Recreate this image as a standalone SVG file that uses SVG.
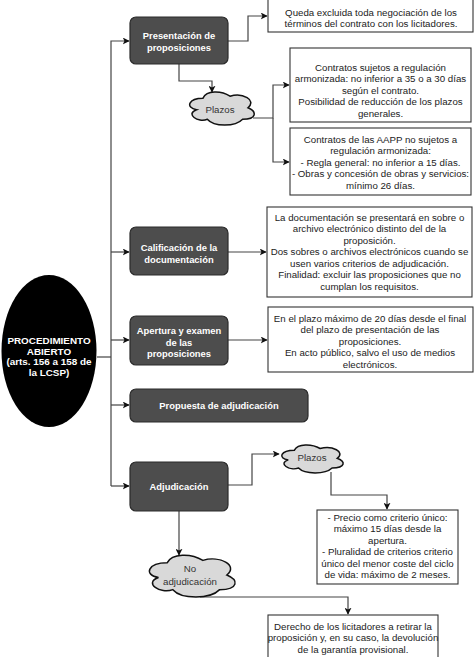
<svg xmlns="http://www.w3.org/2000/svg" width="474" height="657" viewBox="0 0 474 657">
<style>
.node rect{fill:#4d4d4d;stroke:#2b2b2b;stroke-width:1.2}
.nt{font-family:"Liberation Sans",Arial,sans-serif;font-size:9.4px;font-weight:bold;fill:#ffffff;text-anchor:middle}
.et{font-family:"Liberation Sans",Arial,sans-serif;font-size:9.9px;font-weight:bold;fill:#ffffff;text-anchor:middle}
.box rect{fill:#ffffff;stroke:#333333;stroke-width:1.1}
.bt{font-family:"Liberation Sans",Arial,sans-serif;font-size:9.7px;fill:#222222;text-anchor:middle}
.ct{font-family:"Liberation Sans",Arial,sans-serif;font-size:9.7px;fill:#333333;text-anchor:middle}
.cloud path{fill:#d9d9d9;stroke:#111111;stroke-width:1.5}
.edges path{fill:none;stroke:#444444;stroke-width:1.2}
</style>
<defs>
<marker id="arr" viewBox="0 0 10 10" refX="9" refY="5" markerWidth="7" markerHeight="7" markerUnits="userSpaceOnUse" orient="auto">
<path d="M0,0 L10,5 L0,10 L2.5,5 Z" fill="#111111"/>
</marker>
</defs>
<rect x="0" y="0" width="474" height="657" fill="#ffffff"/>

<g class="edges" id="connectors">
<path d="M97,357 L111,357"/>
<path d="M111,486 L111,41 L129,41" marker-end="url(#arr)"/>
<path d="M111,252 L129,252" marker-end="url(#arr)"/>
<path d="M111,340 L129,340" marker-end="url(#arr)"/>
<path d="M111,405 L129,405" marker-end="url(#arr)"/>
<path d="M111,486 L129,486" marker-end="url(#arr)"/>
<path d="M228,41 L248,41 L248,16 L267,16" marker-end="url(#arr)"/>
<path d="M179,64 L179,81 L212,81 L212,92" marker-end="url(#arr)"/>
<path d="M253,118 L273,118 L273,85 L289,85" marker-end="url(#arr)"/>
<path d="M273,118 L273,162 L289,162" marker-end="url(#arr)"/>
<path d="M228,252 L266,252" marker-end="url(#arr)"/>
<path d="M228,340 L267,340" marker-end="url(#arr)"/>
<path d="M228,485 L252,485 L252,454 L279,454" marker-end="url(#arr)"/>
<path d="M331,472 L331,495 L387,495 L387,509" marker-end="url(#arr)"/>
<path d="M179,511 L179,555" marker-end="url(#arr)"/>
<path d="M200,597 L348,597 L348,614" marker-end="url(#arr)"/>
</g>

<g id="procedimiento">
<ellipse cx="49" cy="351" rx="47.5" ry="76" fill="#000000"/>
<text class="et" x="49" y="344">PROCEDIMIENTO</text>
<text class="et" x="49" y="354.5">ABIERTO</text>
<text class="et" x="49" y="365">(arts. 156 a 158 de</text>
<text class="et" x="49" y="375.5">la LCSP)</text>
</g>

<g class="node" id="presentacion">
<rect x="130" y="17" width="98" height="47" rx="6"/>
<text class="nt" x="179" y="39">Presentación de</text>
<text class="nt" x="179" y="51">proposiciones</text>
</g>

<g class="box" id="negociacion">
<rect x="268" y="-1" width="205" height="33"/>
<text class="bt" x="371" y="15.5">Queda excluida toda negociación de los</text>
<text class="bt" x="371" y="27">términos del contrato con los licitadores.</text>
</g>

<g class="cloud" id="plazos1">
<path d="M25,25 C5,25 0,50 16,55 C0,66 18,90 31,80 C40,100 70,100 80,80 C100,80 100,60 87.5,50 C100,30 80,10 62.5,20 C50,5 30,5 25,25 Z" transform="translate(185,88.5) scale(0.72,0.385)" vector-effect="non-scaling-stroke"/>
<text class="ct" x="220" y="113">Plazos</text>
</g>

<g class="box" id="armonizada">
<rect x="290" y="48" width="181" height="74"/>
<text class="bt" x="380.5" y="70.5">Contratos sujetos a regulación</text>
<text class="bt" x="380.5" y="82.1">armonizada: no inferior a 35 o a 30 días</text>
<text class="bt" x="380.5" y="93.7">según el contrato.</text>
<text class="bt" x="380.5" y="105.3">Posibilidad de reducción de los plazos</text>
<text class="bt" x="380.5" y="116.9">generales.</text>
</g>

<g class="box" id="no-armonizada">
<rect x="290" y="128" width="181" height="67"/>
<text class="bt" x="380.5" y="142.5">Contratos de las AAPP no sujetos a</text>
<text class="bt" x="380.5" y="154">regulación armonizada:</text>
<text class="bt" x="380.5" y="165.5">- Regla general: no inferior a 15 días.</text>
<text class="bt" x="380.5" y="177">- Obras y concesión de obras y servicios:</text>
<text class="bt" x="380.5" y="188.5">mínimo 26 días.</text>
</g>

<g class="node" id="calificacion">
<rect x="130" y="227" width="98" height="48" rx="6"/>
<text class="nt" x="179" y="251">Calificación de la</text>
<text class="nt" x="179" y="262.5">documentación</text>
</g>

<g class="box" id="documentacion">
<rect x="267" y="207" width="205" height="90"/>
<text class="bt" x="369.5" y="220.5">La documentación se presentará en sobre o</text>
<text class="bt" x="369.5" y="232">archivo electrónico distinto del de la</text>
<text class="bt" x="369.5" y="243.5">proposición.</text>
<text class="bt" x="369.5" y="255">Dos sobres o archivos electrónicos cuando se</text>
<text class="bt" x="369.5" y="266.5">usen varios criterios de adjudicación.</text>
<text class="bt" x="369.5" y="278">Finalidad: excluir las proposiciones que no</text>
<text class="bt" x="369.5" y="289.5">cumplan los requisitos.</text>
</g>

<g class="node" id="apertura">
<rect x="130" y="316" width="98" height="49" rx="6"/>
<text class="nt" x="179" y="334">Apertura y examen</text>
<text class="nt" x="179" y="345.5">de las</text>
<text class="nt" x="179" y="357">proposiciones</text>
</g>

<g class="box" id="plazo-apertura">
<rect x="268" y="307" width="205" height="65"/>
<text class="bt" x="370" y="321.5">En el plazo máximo de 20 días desde el final</text>
<text class="bt" x="370" y="333">del plazo de presentación de las</text>
<text class="bt" x="370" y="344.5">proposiciones.</text>
<text class="bt" x="370" y="356">En acto público, salvo el uso de medios</text>
<text class="bt" x="370" y="367.5">electrónicos.</text>
</g>

<g class="node" id="propuesta">
<rect x="130" y="389" width="178" height="33" rx="6"/>
<text class="nt" x="219" y="409">Propuesta de adjudicación</text>
</g>

<g class="node" id="adjudicacion">
<rect x="130" y="462" width="98" height="49" rx="6"/>
<text class="nt" x="179" y="490">Adjudicación</text>
</g>

<g class="cloud" id="plazos2">
<path d="M25,25 C5,25 0,50 16,55 C0,66 18,90 31,80 C40,100 70,100 80,80 C100,80 100,60 87.5,50 C100,30 80,10 62.5,20 C50,5 30,5 25,25 Z" transform="translate(277.3,442) scale(0.685,0.325)" vector-effect="non-scaling-stroke"/>
<text class="ct" x="312" y="461">Plazos</text>
</g>

<g class="box" id="plazos-adjudicacion">
<rect x="317" y="510" width="141" height="74"/>
<text class="bt" x="387.5" y="520.5">- Precio como criterio único:</text>
<text class="bt" x="387.5" y="532">máximo 15 días desde la</text>
<text class="bt" x="387.5" y="543.5">apertura.</text>
<text class="bt" x="387.5" y="555">- Pluralidad de criterios criterio</text>
<text class="bt" x="387.5" y="566.5">único del menor coste del ciclo</text>
<text class="bt" x="387.5" y="578">de vida: máximo de 2 meses.</text>
</g>

<g class="cloud" id="no-adjudicacion">
<path d="M25,25 C5,25 0,50 16,55 C0,66 18,90 31,80 C40,100 70,100 80,80 C100,80 100,60 87.5,50 C100,30 80,10 62.5,20 C50,5 30,5 25,25 Z" transform="translate(143.2,550.6) scale(0.956,0.488)" vector-effect="non-scaling-stroke"/>
<text class="ct" x="190" y="571.5">No</text>
<text class="ct" x="190" y="584.5">adjudicación</text>
</g>

<g class="box" id="retirar">
<rect x="268" y="615" width="170" height="46"/>
<text class="bt" x="353" y="629.5">Derecho de los licitadores a retirar la</text>
<text class="bt" x="353" y="641">proposición y, en su caso, la devolución</text>
<text class="bt" x="353" y="652.5">de la garantía provisional.</text>
</g>
</svg>
